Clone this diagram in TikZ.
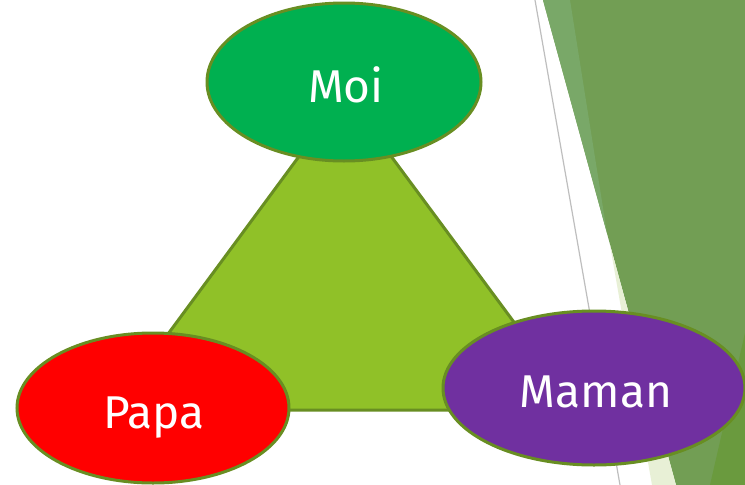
\documentclass[tikz,border=0pt]{standalone}
\usepackage{fontspec}
\setmainfont{Fira Sans}
\usetikzlibrary{shapes.geometric}
\definecolor{olive}{RGB}{104,142,34}
\definecolor{trifill}{RGB}{144,193,40}
\definecolor{moifill}{RGB}{0,176,80}
\definecolor{papafill}{RGB}{255,0,0}
\definecolor{mamanfill}{RGB}{112,48,160}
\definecolor{bgmain}{RGB}{114,158,84}
\definecolor{bglight}{RGB}{121,168,104}
\definecolor{bgdark}{RGB}{106,154,62}
\definecolor{bgpale}{RGB}{232,240,214}
\definecolor{rule}{RGB}{190,190,190}
\tikzset{
  oval/.style={ellipse, draw=olive, line width=3pt, inner sep=0pt},
  lbl/.style={text=white, font=\fontsize{46}{50}\selectfont, anchor=base, inner sep=0pt}
}
\begin{document}
\begin{tikzpicture}[x=1pt,y=-1pt]
\useasboundingbox (0,0) rectangle (745,485);
\fill[white] (0,0) rectangle (745,485);
% background of the slide
\fill[bgmain] (543,0) -- (745,0) -- (745,485) -- (676,485) -- cycle;
\fill[bglight] (543,0) -- (570,0) -- (607,233) -- cycle;
\fill[bgdark] (745,333) -- (745,485) -- (710,485) -- cycle;
\fill[bgpale] (610,245) -- (676,485) -- (652,485) -- cycle;
\draw[rule, line width=1.2pt] (535,0) -- (620,485);
% triangle
\coordinate (apex) at (345,94);
\coordinate (bl) at (112,410);
\coordinate (br) at (579,410);
\filldraw[fill=trifill, draw=olive, line width=3pt, line join=miter] (apex) -- (br) -- (bl) -- cycle;
% ellipses
\node[oval, fill=moifill, minimum width=274pt, minimum height=158pt] (moi) at (344,82) {};
\node[oval, fill=papafill, minimum width=272pt, minimum height=150pt] (papa) at (153,408) {};
\node[oval, fill=mamanfill, minimum width=302pt, minimum height=154pt] (maman) at (594,388) {};
% labels
\node[lbl] (moit) at (346,102) {Moi};
\node[lbl] (papat) at (154,428) {Papa};
\node[lbl] (mamant) at (596,407) {Maman};
\end{tikzpicture}
\end{document}
